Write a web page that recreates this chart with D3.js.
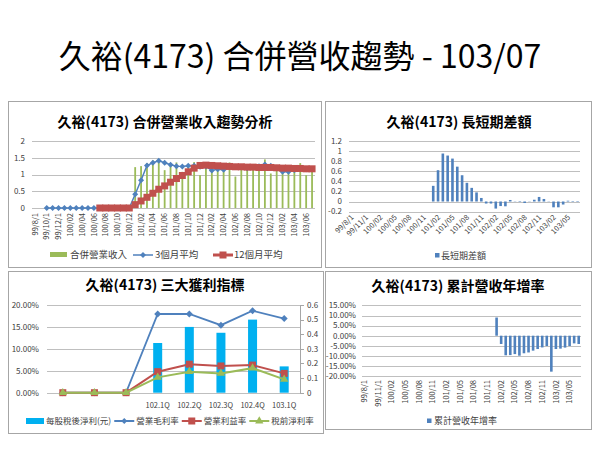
<!DOCTYPE html>
<html><head><meta charset="utf-8">
<script src="https://cdn.jsdelivr.net/npm/d3@7"></script>
<style>
body{margin:0;background:#fff;}
svg{display:block;font-family:"Noto Sans CJK TC","Noto Sans CJK SC",sans-serif;}
</style></head><body>
<svg id="c" width="600" height="450"></svg>
<script>
// ---------------- DATA ----------------
const mainTitle = "久裕(4173) 合併營收趨勢 - 103/07";
const titleTL = "久裕(4173) 合併營業收入趨勢分析";
const titleTR = "久裕(4173) 長短期差額";
const titleBL = "久裕(4173) 三大獲利指標";
const titleBR = "久裕(4173) 累計營收年增率";

const months = ["99/8/1","99/9/1","99/10/1","99/11/1","99/12/1",
  "100/01","100/02","100/03","100/04","100/05","100/06","100/07","100/08","100/09","100/10","100/11","100/12",
  "101/01","101/02","101/03","101/04","101/05","101/06","101/07","101/08","101/09","101/10","101/11","101/12",
  "102/01","102/02","102/03","102/04","102/05","102/06","102/07","102/08","102/09","102/10","102/11","102/12",
  "103/01","103/02","103/03","103/04","103/05","103/06","103/07"];

// monthly revenue (合併營業收入)
const revenue = [null,null,null,null,null,null,null,null,null,null,null,null,null,null,null,null,null,
  1.22,1.25,1.34,1.42,1.45,1.13,1.31,1.36,1.08,1.30,1.37,0.98,
  1.30,1.15,1.15,1.18,1.36,0.94,1.25,1.28,1.22,1.30,1.45,1.03,
  1.20,1.12,1.18,1.13,1.34,0.98,1.25];
// 3-month average
const avg3 = [null,null,0,0,0,0,0,0,0,0,0,0,0,0,0,0,0,
  0.41,0.83,1.27,1.35,1.41,1.35,1.29,1.25,1.24,1.26,1.26,1.23,
  1.24,1.12,1.16,1.145,1.25,1.23,1.22,1.19,1.22,1.25,1.30,1.26,
  1.20,1.08,1.08,1.13,1.17,1.16,1.16];
// 12-month average
const avg12 = [null,null,null,null,null,null,null,null,null,null,null,0,0,0,0,0,0,
  0.10,0.21,0.32,0.44,0.56,0.66,0.77,0.88,0.97,1.08,1.19,1.27,
  1.28,1.27,1.26,1.25,1.24,1.23,1.23,1.22,1.22,1.21,1.21,1.21,
  1.20,1.19,1.19,1.18,1.18,1.17,1.17];
// 長短期差額
const diffs = [null,null,null,null,null,null,null,null,null,null,null,null,null,null,null,null,null,
  0.31,0.62,0.95,0.91,0.85,0.69,0.52,0.37,0.27,0.18,0.07,-0.04,
  -0.04,-0.14,-0.09,-0.095,0.03,0.005,-0.01,-0.03,0.005,0.035,0.09,0.05,
  0.005,-0.115,-0.115,-0.06,0.015,0.01,-0.01];
// 累計營收年增率 (%)
const ytdGrowth = [null,null,null,null,null,null,null,null,null,null,null,null,null,null,null,null,null,
  null,null,null,null,null,null,null,null,null,null,null,null,
  9.0,-4.1,-9.7,-9.6,-9.1,-9.9,-8.7,-8.3,-7.4,-6.6,-5.8,-5.1,
  -17.8,-6.6,-6.4,-5.9,-5.1,-3.8,-4.1];

// quarterly profitability
const quarterLabels = ["","","","102.1Q","102.2Q","102.3Q","102.4Q","103.1Q"];
const eps = [null,null,null,0.34,0.45,0.41,0.50,0.18];
const grossMargin = [0,0,0,17.95,17.95,15.4,18.7,16.9];
const opMargin = [0,0,0,4.8,6.5,6.1,6.3,4.4];
const preTaxMargin = [0,0,0,3.5,4.8,4.4,5.6,3.05];

const ticksTL = [0,0.5,1,1.5,2];
const ticksTR = [-0.2,0,0.2,0.4,0.6,0.8,1,1.2];
const ticksBL = [0,5,10,15,20];
const ticksBLR = [0,0.1,0.2,0.3,0.4,0.5,0.6];
const ticksBR = [-20,-15,-10,-5,0,5,10,15];

const legendTL = ["合併營業收入","3個月平均","12個月平均"];
const legendTR = ["長短期差額"];
const legendBL = ["每股稅後淨利(元)","營業毛利率","營業利益率","稅前淨利率"];
const legendBR = ["累計營收年增率"];

// ---------------- STYLE ----------------
const C = {green:"#9BBB59", blue:"#4F81BD", red:"#C0504D", cyan:"#00B0F0", grid:"#BFBFBF", txt:"#404040", border:"#A6A6A6"};
const svg = d3.select("#c");

svg.append("text").attr("x",300).attr("y",68).attr("text-anchor","middle")
  .attr("font-size",32).attr("fill","#000").text(mainTitle);

function panel(x,y,w,h){
  svg.append("rect").attr("x",x+0.5).attr("y",y+0.5).attr("width",w).attr("height",h)
    .attr("fill","#fff").attr("stroke",C.border).attr("stroke-width",1);
}
function chartTitle(t,x,y){
  svg.append("text").attr("x",x).attr("y",y).attr("text-anchor","middle")
    .attr("font-size",14).attr("font-weight","bold").attr("fill","#000").text(t);
}
function grid(g,y,ticks,x0,x1){
  g.selectAll(null).data(ticks).join("line")
    .attr("x1",x0).attr("x2",x1).attr("y1",d=>Math.round(y(d))+0.5).attr("y2",d=>Math.round(y(d))+0.5)
    .attr("stroke",C.grid).attr("stroke-width",1);
}
function yLabels(g,y,ticks,x,fmt,anchor){
  g.selectAll(null).data(ticks).join("text")
    .attr("x",x).attr("y",d=>y(d)).attr("dy","0.35em").attr("text-anchor",anchor||"end")
    .attr("font-size",8).attr("fill",C.txt).text(fmt);
}
function diamond(g,cx,cy,s,color){
  g.append("path").attr("d",`M${cx},${cy-s}L${cx+s},${cy}L${cx},${cy+s}L${cx-s},${cy}Z`).attr("fill",color);
}

// ---------------- TOP LEFT ----------------
panel(8,101,313,166);
chartTitle(titleTL,165,127);
{
  const g = svg.append("g");
  const x = d3.scaleBand().domain(months).range([32,315]);
  const y = d3.scaleLinear().domain([0,2]).range([208,141]);
  const cx = d => x(d)+x.bandwidth()/2;
  grid(g,y,ticksTL,32,315);
  yLabels(g,y,ticksTL,25,d=>d);
  g.selectAll(null).data(months.filter((d,i)=>i%2===0)).join("text")
    .attr("transform",d=>`translate(${cx(d)},213) rotate(-90)`)
    .attr("dy","0.35em").attr("text-anchor","end").attr("font-size",7.5).attr("fill",C.txt).text(d=>d);
  const bw = 1.8;
  g.selectAll(null).data(months.map((m,i)=>({m,v:revenue[i]})).filter(d=>d.v!=null)).join("rect")
    .attr("x",d=>cx(d.m)-bw/2).attr("width",bw).attr("y",d=>y(d.v)).attr("height",d=>y(0)-y(d.v)).attr("fill",C.green);
  const line = d3.line().defined(d=>d.v!=null).x(d=>cx(d.m)).y(d=>y(d.v));
  const b = months.map((m,i)=>({m,v:avg3[i]}));
  g.append("path").datum(b).attr("d",line).attr("fill","none").attr("stroke",C.blue).attr("stroke-width",1.5);
  b.filter(d=>d.v!=null).forEach(d=>diamond(g,cx(d.m),y(d.v),3,C.blue));
  const r = months.map((m,i)=>({m,v:avg12[i]}));
  g.append("path").datum(r).attr("d",line).attr("fill","none").attr("stroke",C.red).attr("stroke-width",3);
  g.selectAll(null).data(r.filter(d=>d.v!=null)).join("rect")
    .attr("x",d=>cx(d.m)-3.5).attr("y",d=>y(d.v)-3.5).attr("width",7).attr("height",7).attr("fill",C.red);
  // legend
  const ly = 255;
  g.append("rect").attr("x",50).attr("y",ly-3).attr("width",17).attr("height",5).attr("fill",C.green);
  g.append("text").attr("x",70).attr("y",ly).attr("dy","0.35em").attr("font-size",9.5).attr("fill",C.txt).text(legendTL[0]);
  g.append("line").attr("x1",133).attr("x2",153).attr("y1",ly).attr("y2",ly).attr("stroke",C.blue).attr("stroke-width",1.5);
  diamond(g,143,ly,3,C.blue);
  g.append("text").attr("x",155).attr("y",ly).attr("dy","0.35em").attr("font-size",9.5).attr("fill",C.txt).text(legendTL[1]);
  g.append("line").attr("x1",213).attr("x2",233).attr("y1",ly).attr("y2",ly).attr("stroke",C.red).attr("stroke-width",3);
  g.append("rect").attr("x",219.5).attr("y",ly-3.5).attr("width",7).attr("height",7).attr("fill",C.red);
  g.append("text").attr("x",234).attr("y",ly).attr("dy","0.35em").attr("font-size",9.5).attr("fill",C.txt).text(legendTL[2]);
}

// ---------------- TOP RIGHT ----------------
panel(325,101,266,166);
chartTitle(titleTR,459,127);
{
  const g = svg.append("g");
  const x = d3.scaleBand().domain(months).range([349,580]);
  const y = d3.scaleLinear().domain([-0.2,1.2]).range([211.6,140.9]);
  const cx = d => x(d)+x.bandwidth()/2;
  grid(g,y,ticksTR,349,580);
  yLabels(g,y,ticksTR,342,d=>d);
  g.selectAll(null).data(months.filter((d,i)=>i%3===0)).join("text")
    .attr("transform",d=>`translate(${cx(d)+1},216) rotate(-45)`)
    .attr("dy","0.35em").attr("text-anchor","end").attr("font-size",7.5).attr("fill",C.txt).text(d=>d);
  const bw = 2.6;
  g.selectAll(null).data(months.map((m,i)=>({m,v:diffs[i]})).filter(d=>d.v!=null)).join("rect")
    .attr("x",d=>cx(d.m)-bw/2).attr("width",bw)
    .attr("y",d=>Math.min(y(d.v),y(0))).attr("height",d=>Math.abs(y(d.v)-y(0))).attr("fill",C.blue);
  g.append("rect").attr("x",435).attr("y",253).attr("width",4.5).attr("height",4.5).attr("fill",C.blue);
  g.append("text").attr("x",441).attr("y",255.5).attr("dy","0.35em").attr("font-size",9).attr("fill",C.txt).text(legendTR[0]);
}

// ---------------- BOTTOM LEFT ----------------
panel(8,271,315,162);
chartTitle(titleBL,165,290);
{
  const g = svg.append("g");
  const idx = d3.range(quarterLabels.length);
  const x = d3.scaleBand().domain(idx).range([47,300]);
  const yL = d3.scaleLinear().domain([0,20]).range([392.7,305]);
  const yR = d3.scaleLinear().domain([0,0.6]).range([392.7,305]);
  const cx = i => x(i)+x.bandwidth()/2;
  grid(g,yL,ticksBL,47,300);
  yLabels(g,yL,ticksBL,39,d=>d.toFixed(2)+"%");
  g.append("line").attr("x1",300.5).attr("x2",300.5).attr("y1",305).attr("y2",393).attr("stroke","#A6A6A6");
  g.selectAll(null).data(ticksBLR).join("line").attr("x1",300).attr("x2",304)
    .attr("y1",d=>Math.round(yR(d))+0.5).attr("y2",d=>Math.round(yR(d))+0.5).attr("stroke","#A6A6A6");
  yLabels(g,yR,ticksBLR,307,d=>d,"start");
  g.selectAll(null).data(idx).join("text").attr("x",cx).attr("y",405).attr("dy","0.35em")
    .attr("text-anchor","middle").attr("font-size",7.5).attr("fill",C.txt).text(i=>quarterLabels[i]);
  const bw = 9;
  g.selectAll(null).data(idx.filter(i=>eps[i]!=null)).join("rect")
    .attr("x",i=>cx(i)-bw/2).attr("width",bw).attr("y",i=>yR(eps[i])).attr("height",i=>yR(0)-yR(eps[i])).attr("fill",C.cyan);
  const line = arr => d3.line().x(i=>cx(i)).y(i=>yL(arr[i]))(idx);
  g.append("path").attr("d",line(grossMargin)).attr("fill","none").attr("stroke",C.blue).attr("stroke-width",1.8);
  idx.forEach(i=>diamond(g,cx(i),yL(grossMargin[i]),3.5,C.blue));
  g.append("path").attr("d",line(opMargin)).attr("fill","none").attr("stroke",C.red).attr("stroke-width",2);
  g.selectAll(null).data(idx).join("rect").attr("x",i=>cx(i)-3.5).attr("y",i=>yL(opMargin[i])-3.5)
    .attr("width",7).attr("height",7).attr("fill",C.red);
  g.append("path").attr("d",line(preTaxMargin)).attr("fill","none").attr("stroke",C.green).attr("stroke-width",2);
  const tri = d3.symbol().type(d3.symbolTriangle).size(30);
  g.selectAll(null).data(idx).join("path").attr("d",tri)
    .attr("transform",i=>`translate(${cx(i)},${yL(preTaxMargin[i])})`).attr("fill",C.green);
  // legend, laid out left to right
  const ly = 421;
  let lx = 26;
  const fs = 8.5;
  const addText = (t) => {
    const el = g.append("text").attr("x",lx).attr("y",ly).attr("dy","0.35em").attr("font-size",fs).attr("fill",C.txt).text(t);
    lx += el.node().getComputedTextLength() + 3;
  };
  g.append("rect").attr("x",lx).attr("y",ly-3).attr("width",18).attr("height",6).attr("fill",C.cyan);
  lx += 20; addText(legendBL[0]);
  const markers = [
    (cxm)=>diamond(g,cxm,ly,3,C.blue),
    (cxm)=>g.append("rect").attr("x",cxm-3.5).attr("y",ly-3.5).attr("width",7).attr("height",7).attr("fill",C.red),
    (cxm)=>g.append("path").attr("d",tri).attr("transform",`translate(${cxm},${ly})`).attr("fill",C.green)
  ];
  const cols = [C.blue,C.red,C.green];
  for (let k=0;k<3;k++){
    g.append("line").attr("x1",lx).attr("x2",lx+20).attr("y1",ly).attr("y2",ly).attr("stroke",cols[k]).attr("stroke-width",2);
    markers[k](lx+10);
    lx += 22; addText(legendBL[k+1]);
  }
}

// ---------------- BOTTOM RIGHT ----------------
panel(325,271,266,158);
chartTitle(titleBR,458,291);
{
  const g = svg.append("g");
  const x = d3.scaleBand().domain(months).range([362,581]);
  const y = d3.scaleLinear().domain([-20,15]).range([376.1,305.4]);
  const cx = d => x(d)+x.bandwidth()/2;
  grid(g,y,ticksBR,362,581);
  yLabels(g,y,ticksBR,356,d=>d.toFixed(2)+"%");
  g.selectAll(null).data(months.filter((d,i)=>i%3===0)).join("text")
    .attr("transform",d=>`translate(${cx(d)},380) rotate(-90)`)
    .attr("dy","0.35em").attr("text-anchor","end").attr("font-size",7.5).attr("fill",C.txt).text(d=>d);
  const bw = 2.6;
  g.selectAll(null).data(months.map((m,i)=>({m,v:ytdGrowth[i]})).filter(d=>d.v!=null)).join("rect")
    .attr("x",d=>cx(d.m)-bw/2).attr("width",bw)
    .attr("y",d=>Math.min(y(d.v),y(0))).attr("height",d=>Math.abs(y(d.v)-y(0))).attr("fill",C.blue);
  g.append("rect").attr("x",427).attr("y",418.5).attr("width",4.5).attr("height",4.5).attr("fill",C.blue);
  g.append("text").attr("x",434).attr("y",421).attr("dy","0.35em").attr("font-size",9).attr("fill",C.txt).text(legendBR[0]);
}
</script>
</body></html>
